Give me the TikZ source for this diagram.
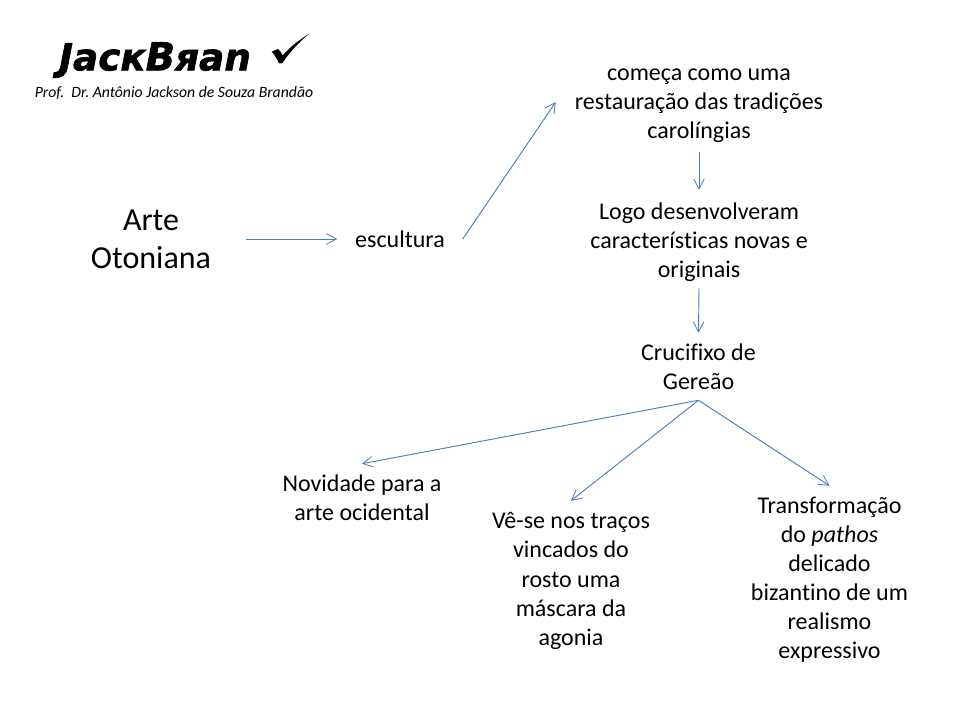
\documentclass[tikz,border=0pt]{standalone}
\usepackage{fontspec}
\setmainfont{Carlito}[Ligatures=NoCommon]
\newfontfamily\logofont{DejaVu Sans}[BoldItalicFeatures={FakeBold=1.6}]
\usetikzlibrary{arrows.meta}
\definecolor{arrowblue}{HTML}{4A7EBB}
\tikzset{
  txt/.style={align=center,inner sep=0pt,font=\fontsize{18pt}{21.8pt}\selectfont},
  big/.style={align=center,inner sep=0pt,font=\fontsize{24pt}{28.5pt}\selectfont},
  conn/.style={draw=arrowblue,line width=0.7pt,-{Straight Barb[length=7.5pt,width=8pt,line width=0.6pt]}}
}
\begin{document}
\begin{tikzpicture}[x=0.75pt,y=-0.75pt]
\useasboundingbox (0,0) rectangle (960,720);
\node[inner sep=0pt,font=\logofont\bfseries\itshape\fontsize{28pt}{32pt}\selectfont] (logo) at (155,60) {Jacк\fontsize{29pt}{32pt}\selectfont B\fontsize{28pt}{32pt}\selectfont яan};
\node[inner sep=0pt,font=\itshape\fontsize{11.8pt}{14pt}\selectfont] (prof) at (174,93) {Prof.\ \ Dr.\ Antônio Jackson de Souza Brandão};
\fill (271.7,51.7) -- (278,49) .. controls (280,50) and (281.5,53) .. (282.5,55.5) .. controls (290,47) and (299,40) .. (309.5,33.5) .. controls (299,42) and (289,53) .. (282,63.5) -- (279,63.5) .. controls (277,58.5) and (274.5,55) .. cycle;
\node[big,minimum width=142.5pt,minimum height=60pt] (arte) at (151,239) {Arte\\Otoniana};
\node[txt,minimum width=93.75pt,minimum height=30pt] (esc) at (400,239) {escultura};
\node[txt,minimum width=214.5pt,minimum height=69pt] (top) at (699,106) {começa como uma\\restauração das tradições\\carolíngias};
\node[txt,minimum width=200pt,minimum height=78pt] (mid) at (699,242) {Logo desenvolveram\\características novas e\\originais};
\node[txt,minimum width=120pt,minimum height=50.25pt] (cru) at (698.5,366.5) {Crucifixo de\\Gereão};
\node[txt,minimum width=170pt,minimum height=50.25pt] (nov) at (362,497.5) {Novidade para a\\arte ocidental};
\node[txt,minimum width=150pt,minimum height=120pt] (ves) at (571,581) {Vê-se nos traços\\vincados do\\rosto uma\\máscara da\\agonia};
\node[txt,minimum width=150pt,minimum height=141pt] (tra) at (829.5,580) {Transformação\\do \textit{pathos}\\delicado\\bizantino de um\\realismo\\expressivo};
\draw[conn] (arte.east) -- (esc.west);
\draw[conn] (esc.east) -- ([yshift=3pt]top.west);
\draw[conn] (top.south) -- (mid.north);
\draw[conn] ([yshift=5pt]mid.south) -- (cru.north);
\draw[conn] (cru.south) -- (nov.north);
\draw[conn] (cru.south) -- (ves.north);
\draw[conn] (cru.south) -- (tra.north);
\end{tikzpicture}
\end{document}
